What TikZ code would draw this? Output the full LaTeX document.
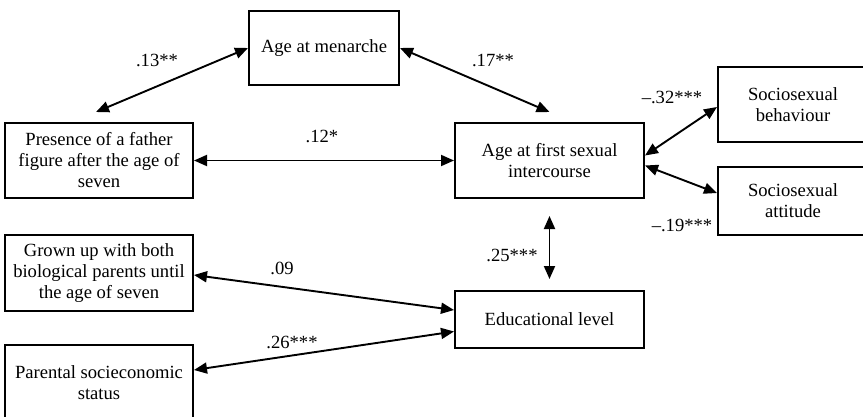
\documentclass[tikz,border=0pt]{standalone}
\usepackage{fontspec}
\setmainfont{Liberation Serif}
\usetikzlibrary{arrows.meta}

\begin{document}
\begin{tikzpicture}[x=1pt,y=1pt,
    box/.style={draw,line width=2pt,align=center,inner sep=0pt},
    link/.style={{Triangle[length=13pt,width=11pt]}-{Triangle[length=13pt,width=11pt]},line width=1.9pt}]
            \tikzstyle{every node}+=[font=\fontsize{18.6}{21}\selectfont]
                \useasboundingbox (0,0) rectangle (863,-416);
                % boxes
                \node [box,minimum width=150pt,minimum height=74pt] (menarche) at (324,-48) {Age at menarche};
                \node [box,minimum width=188pt,minimum height=75pt] (presence) at (99,-160.5) {Presence of a father\\figure after the age of\\seven};
                \node [box,minimum width=189pt,minimum height=75pt] (first) at (549.5,-160.5) {Age at first sexual\\intercourse};
                \node [box,minimum width=150pt,minimum height=75pt] (behav) at (793,-104.5) {Sociosexual\\behaviour};
                \node [box,minimum width=150pt,minimum height=68pt] (attitude) at (793,-201) {Sociosexual\\attitude};
                \node [box,minimum width=188pt,minimum height=76pt] (grown) at (99,-273) {Grown up with both\\biological parents until\\the age of seven};
                \node [box,minimum width=188pt,minimum height=75pt] (parental) at (99,-382.5) {Parental socieconomic\\status};
                \node [box,minimum width=189pt,minimum height=57pt] (educ) at (549.5,-319.5) {Educational level};
                % links
                \draw [link] (menarche.west) -- ([shift={(-3pt,10pt)}]presence.north);
                \draw [link] (menarche.east) -- ([yshift=10pt]first.north);
                \draw [link] (presence.east) -- (first.west);
                \draw [link] ([yshift=5pt]first.east) -- ([yshift=-2.5pt]behav.west);
                \draw [link] ([yshift=-5pt]first.east) -- ([yshift=8pt]attitude.west);
                \draw [link] ([yshift=-17pt]first.south) -- ([yshift=11pt]educ.north);
                \draw [link] ([yshift=-2pt]grown.east) -- ([yshift=9.5pt]educ.west);
                \draw [link] ([yshift=12.5pt]parental.east) -- ([yshift=-12pt]educ.west);
                % coefficients
                \node (c13) at (157,-60) {.13**};
                \node (c17) at (493,-60) {.17**};
                \node (c12) at (322,-136) {.12*};
                \node (c32) at (672,-97) {\textendash.32***};
                \node (c19) at (682,-225) {\textendash.19***};
                \node (c25) at (512,-255) {.25***};
                \node (c09) at (282,-268) {.09};
                \node (c26) at (292,-342) {.26***};
            \end{tikzpicture}
\end{document}
